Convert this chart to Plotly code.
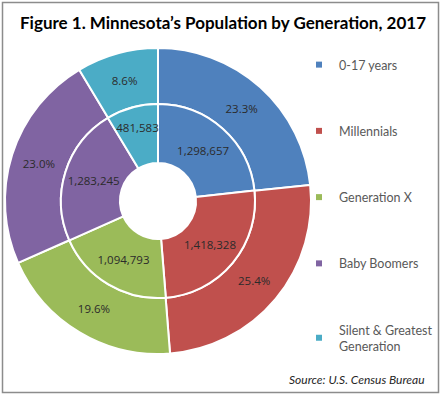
import plotly.graph_objects as go

categories = ["0-17 years", "Millennials", "Generation X", "Baby Boomers", "Silent & Greatest<br>Generation"]
population = [1298657, 1418328, 1094793, 1283245, 481583]
percent = [23.3, 25.4, 19.6, 23.0, 8.6]
colors = ["#4F81BD", "#C0504D", "#9BBB59", "#8064A2", "#4BACC6"]

W, H = 444, 398
FONT = "Lato"
LBL_FONT = "Open Sans"
TXT = "#2b2b2b"

fig = go.Figure()

# outer ring: percentages
fig.add_trace(go.Pie(
    labels=categories, values=percent, sort=False, direction="clockwise", rotation=0,
    hole=0.634, domain=dict(x=[5 / W, 311 / W], y=[(H - 354) / H, (H - 48) / H]),
    marker=dict(colors=colors, line=dict(color="white", width=2)),
    texttemplate="%{value:.1f}%", textposition="inside", insidetextorientation="horizontal",
    textfont=dict(family=LBL_FONT, size=11.5, color=TXT), showlegend=False, hoverinfo="label+value",
))

# inner ring: population counts
fig.add_trace(go.Pie(
    labels=categories, values=population, sort=False, direction="clockwise", rotation=0,
    hole=0.392, domain=dict(x=[61 / W, 255 / W], y=[(H - 298) / H, (H - 104) / H]),
    marker=dict(colors=colors, line=dict(color="white", width=2)),
    texttemplate="%{value:,}", textposition="inside", insidetextorientation="horizontal",
    textfont=dict(family=LBL_FONT, size=11.5, color=TXT), showlegend=False, hoverinfo="label+value",
))

# legend entries
for i, (c, col) in enumerate(zip(categories, colors)):
    fig.add_trace(go.Scatter(
        x=[None], y=[None], mode="markers", name=c, legendgroup=f"g{i}",
        marker=dict(symbol="square", size=6, color=col),
    ))

fig.update_layout(
    width=W, height=H, margin=dict(l=0, r=0, t=0, b=0),
    paper_bgcolor="white", plot_bgcolor="white",
    xaxis=dict(visible=False), yaxis=dict(visible=False),
    font=dict(family=FONT),
    title=dict(text="<b>Figure 1. Minnesota’s Population by Generation, 2017</b>",
               x=20 / W, xanchor="left", y=1 - 23 / H, yanchor="middle",
               font=dict(family=FONT, size=17, color="black")),
    legend=dict(x=299 / W, xanchor="left", y=1 - 50 / H, yanchor="top",
                font=dict(family=FONT, size=12.5, color="#595959"),
                tracegroupgap=47, bgcolor="rgba(0,0,0,0)"),
    uniformtext=dict(minsize=11.5, mode="show"),
    shapes=[dict(type="rect", xref="paper", yref="paper",
                 x0=2.5 / W, x1=438.5 / W, y0=1 - 392.5 / H, y1=1 - 2.5 / H,
                 line=dict(color="#8c8c8c", width=1.5))],
    annotations=[dict(text="<i>Source: U.S. Census Bureau</i>", xref="paper", yref="paper",
                      x=427 / W, xanchor="right", y=1 - 379 / H, yanchor="middle",
                      showarrow=False, font=dict(family=FONT, size=12, color="#262626"))],
)

fig.write_html("out.html", config={"displayModeBar": False},
               post_script="document.body.style.margin='0';")
